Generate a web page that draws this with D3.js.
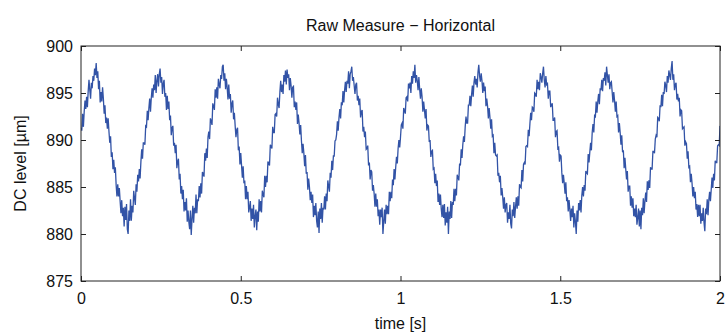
<!DOCTYPE html>
<html>
<head>
<meta charset="utf-8">
<script src="https://cdn.jsdelivr.net/npm/d3@7"></script>
<style>
  html, body { margin: 0; padding: 0; background: #fff; }
  svg { display: block; font-family: "Liberation Sans", Arial, sans-serif; }
</style>
</head>
<body>
<svg id="chart" width="727" height="334"></svg>
<script>
// sampling step of the trace [s]
const dt = 0.0025;

// DC level [um], one value per 2.5 ms (one row block per ~0.2 s cycle)
const dcLevel = [
  891.3, 891.0, 892.8, 891.4, 893.0, 894.2, 893.3, 894.6, 893.5, 895.2,
  896.4, 895.3, 894.4, 896.1, 895.5, 896.8, 896.3, 897.6, 896.9, 898.2,
  896.6, 897.3, 895.4, 896.3, 894.0, 895.1, 894.1, 895.6, 894.4, 892.8,
  893.7, 891.8, 892.4, 891.2, 892.3, 890.9, 889.7, 890.4, 888.2, 888.7,
  886.9, 887.9, 886.5, 887.1, 885.2, 884.0, 885.3, 884.0, 884.9, 883.5,
  882.2, 883.6, 881.9, 882.8, 880.8, 882.9, 881.5, 883.2, 880.5, 880.0,
  882.5, 881.4, 883.7, 881.4, 883.0, 882.3, 884.6, 883.8, 883.1, 885.3,
  884.5, 886.3, 885.6, 886.9, 885.9, 887.7, 889.0, 888.0, 889.7, 889.7,

  889.5, 891.5, 891.4, 893.1, 892.1, 893.4, 894.4, 893.0, 894.5, 895.5,
  894.5, 895.9, 895.3, 896.9, 895.0, 896.3, 897.0, 895.7, 897.0, 897.6,
  896.1, 896.7, 894.9, 896.0, 896.4, 894.6, 895.0, 893.2, 894.7, 893.3,
  894.1, 892.1, 892.6, 890.5, 891.3, 891.5, 889.4, 889.7, 888.6, 889.5,
  887.0, 887.7, 888.0, 885.8, 886.4, 884.3, 885.1, 883.7, 884.7, 882.4,
  883.4, 882.5, 883.8, 881.3, 882.5, 881.3, 880.5, 882.5, 879.9, 881.6,
  883.0, 881.2, 882.8, 882.2, 884.2, 882.2, 883.7, 883.5, 885.1, 883.9,
  885.4, 884.3, 886.6, 886.4, 886.1, 888.6, 887.8, 889.1, 888.1, 890.3,

  890.9, 890.1, 892.3, 892.0, 891.6, 893.9, 893.6, 893.2, 895.4, 894.5,
  895.6, 894.4, 896.5, 895.9, 895.5, 896.9, 896.5, 897.8, 898.0, 896.3,
  897.1, 895.4, 896.5, 895.6, 894.3, 895.9, 894.4, 894.9, 892.9, 893.9,
  894.2, 892.2, 892.9, 891.5, 890.3, 891.1, 891.3, 888.9, 889.3, 887.4,
  888.6, 887.3, 886.0, 887.2, 885.4, 885.7, 883.7, 885.1, 883.7, 884.5,
  882.3, 882.8, 883.5, 881.4, 882.7, 881.6, 883.1, 880.7, 881.9, 882.6,
  880.4, 882.4, 881.3, 883.7, 882.4, 883.5, 882.3, 884.6, 884.2, 883.9,
  886.2, 885.0, 886.2, 885.5, 887.7, 887.5, 887.3, 889.5, 889.3, 889.1,

  891.4, 890.8, 890.8, 892.7, 892.8, 892.5, 894.5, 893.8, 893.4, 895.1,
  896.3, 895.1, 895.9, 894.9, 896.9, 896.2, 897.4, 895.9, 897.5, 896.6,
  897.0, 895.3, 896.6, 895.8, 894.5, 895.6, 895.7, 893.5, 894.1, 893.2,
  894.0, 891.7, 892.7, 891.8, 890.6, 891.6, 889.9, 888.6, 889.6, 888.6,
  887.2, 888.4, 886.4, 886.6, 884.7, 885.9, 885.0, 883.6, 884.5, 883.3,
  884.2, 881.8, 883.0, 882.0, 883.3, 881.4, 880.7, 882.4, 880.1, 882.7,
  881.6, 883.3, 881.2, 882.8, 882.6, 884.0, 882.6, 884.3, 883.5, 885.7,
  885.1, 884.5, 886.5, 886.0, 887.8, 886.8, 888.3, 888.3, 889.9, 890.0,

  890.6, 892.0, 891.0, 892.4, 893.3, 892.3, 894.0, 893.7, 895.2, 894.0,
  895.3, 896.2, 895.1, 896.3, 896.0, 897.3, 895.5, 897.0, 897.3, 897.8,
  896.3, 896.7, 895.8, 894.9, 895.9, 896.1, 894.2, 894.7, 893.7, 894.4,
  892.4, 893.0, 893.2, 890.9, 891.4, 890.3, 890.9, 889.0, 889.1, 889.4,
  887.3, 887.6, 885.8, 886.8, 886.6, 884.6, 885.2, 884.3, 882.9, 884.3,
  882.9, 883.7, 881.9, 882.6, 881.0, 882.6, 881.8, 882.8, 880.0, 881.3,
  882.6, 881.1, 883.1, 882.1, 883.0, 882.1, 884.5, 883.5, 884.5, 883.8,
  885.8, 885.2, 886.9, 885.8, 887.1, 888.2, 887.5, 889.1, 890.0, 889.2,

  890.3, 891.6, 891.8, 891.2, 893.4, 893.1, 892.8, 894.5, 894.6, 894.1,
  896.0, 895.5, 896.1, 895.0, 896.8, 896.0, 897.3, 896.6, 898.0, 896.1,
  896.9, 896.3, 895.3, 896.7, 895.4, 894.4, 895.5, 894.6, 893.0, 894.1,
  893.2, 892.3, 893.3, 891.0, 891.6, 891.5, 889.8, 890.0, 888.2, 888.8,
  888.9, 886.9, 887.0, 885.4, 886.4, 885.1, 885.7, 883.4, 884.3, 883.1,
  884.2, 882.7, 881.8, 883.1, 881.7, 883.2, 880.9, 882.3, 881.2, 882.9,
  880.0, 882.4, 881.6, 883.5, 881.7, 883.4, 883.1, 884.8, 883.5, 884.8,
  884.1, 886.3, 886.0, 885.7, 887.5, 887.3, 889.0, 888.1, 889.5, 890.4,

  889.8, 891.4, 892.5, 891.8, 891.8, 893.7, 893.7, 894.7, 893.6, 894.8,
  895.8, 894.6, 896.1, 896.8, 895.9, 896.5, 895.6, 897.2, 898.0, 896.8,
  896.2, 897.1, 896.3, 895.0, 896.1, 895.2, 895.7, 893.6, 894.4, 893.6,
  892.3, 893.4, 892.4, 891.2, 892.2, 890.4, 890.5, 888.6, 889.7, 888.4,
  888.3, 888.4, 886.2, 886.5, 885.5, 886.2, 884.1, 884.9, 883.9, 882.7,
  883.9, 882.3, 883.1, 883.3, 881.2, 882.3, 881.6, 883.1, 881.1, 880.6,
  882.6, 881.9, 883.4, 881.7, 882.9, 883.9, 882.7, 884.0, 883.0, 885.3,
  885.0, 884.9, 886.8, 885.6, 887.4, 887.6, 887.4, 889.3, 889.4, 889.3,

  891.1, 890.4, 891.7, 892.9, 892.1, 893.5, 893.4, 893.0, 895.0, 894.9,
  894.6, 896.4, 895.4, 896.2, 895.3, 897.1, 896.7, 896.1, 897.1, 897.8,
  896.4, 895.6, 896.8, 895.9, 896.0, 894.4, 895.2, 895.2, 893.5, 893.7,
  893.9, 892.1, 892.1, 892.4, 890.3, 890.9, 891.0, 889.1, 889.2, 887.7,
  888.4, 888.3, 886.5, 885.4, 886.3, 885.4, 884.3, 885.5, 883.5, 883.9,
  882.4, 883.6, 882.6, 881.4, 882.7, 881.8, 883.0, 880.7, 882.2, 881.3,
  880.0, 882.5, 881.3, 883.3, 882.5, 883.6, 882.3, 884.1, 885.0, 884.0,
  885.2, 884.6, 886.7, 886.5, 886.4, 888.5, 887.6, 888.7, 889.7, 888.9,

  890.8, 891.7, 890.8, 892.6, 892.5, 894.1, 892.9, 894.1, 894.9, 893.8,
  895.5, 895.3, 896.4, 895.2, 896.6, 896.3, 897.2, 895.8, 897.8, 896.9,
  896.1, 897.0, 895.4, 896.1, 896.2, 895.1, 894.0, 895.1, 894.2, 893.0,
  894.1, 892.5, 892.6, 890.8, 891.8, 890.8, 889.5, 890.5, 888.7, 888.9,
  887.0, 888.1, 886.9, 885.8, 886.7, 884.5, 885.1, 885.1, 883.0, 884.0,
  882.8, 883.8, 881.9, 882.7, 881.8, 883.1, 881.0, 881.7, 882.7, 880.8,
  882.5, 880.5, 882.8, 882.0, 883.8, 882.2, 883.5, 884.4, 883.4, 885.6,
  884.7, 885.7, 884.9, 887.1, 886.9, 886.9, 888.8, 888.8, 888.6, 890.1,

  890.5, 890.3, 892.4, 892.3, 892.0, 893.7, 893.5, 894.8, 893.6, 895.1,
  894.9, 896.2, 895.8, 895.1, 896.8, 896.1, 897.4, 896.9, 896.4, 897.6,
  898.4, 896.4, 897.0, 895.3, 895.9, 896.1, 894.3, 894.9, 894.1, 894.5,
  892.5, 893.2, 893.1, 891.2, 891.3, 891.4, 889.4, 889.8, 889.6, 888.0,
  888.8, 887.1, 887.2, 885.5, 886.4, 885.4, 884.0, 885.0, 883.8, 884.5,
  882.6, 883.2, 881.8, 883.1, 881.9, 883.1, 881.1, 882.2, 881.4, 882.8,
  881.2, 880.3, 882.7, 882.1, 883.7, 882.0, 883.6, 884.5, 883.5, 884.7,
  886.0, 884.9, 886.4, 885.7, 887.8, 887.6, 887.6, 889.4, 889.5, 889.4,

  891.5
];

const xTicks = [0, 0.5, 1, 1.5, 2];
const yTicks = [875, 880, 885, 890, 895, 900];

const title = "Raw Measure \u2212 Horizontal";
const xLabel = "time [s]";
const yLabel = "DC level [\u00b5m]";

const width = 727;
const height = 334;
const margin = { top: 46, right: 7, bottom: 53, left: 81 };
const innerW = width - margin.left - margin.right;
const innerH = height - margin.top - margin.bottom;

const svg = d3.select("#chart");
const g = svg.append("g").attr("transform", `translate(${margin.left},${margin.top})`);

const x = d3.scaleLinear().domain([0, 2]).range([0, innerW]);
const y = d3.scaleLinear().domain([875, 900]).range([innerH, 0]);

const series = dcLevel.map((v, i) => ({ t: i * dt, v }));

g.append("defs").append("clipPath").attr("id", "plotClip")
  .append("rect").attr("width", innerW).attr("height", innerH);

const line = d3.line().x(d => x(d.t)).y(d => y(d.v));
g.append("path").datum(series)
  .attr("clip-path", "url(#plotClip)")
  .attr("d", line)
  .attr("fill", "none")
  .attr("stroke", "#3253a6")
  .attr("stroke-width", 1.3)
  .attr("stroke-linejoin", "miter");

const axisColor = "#222";
const tickFont = 16;

function styleAxis(sel, showLabels) {
  sel.select(".domain").remove();
  sel.selectAll(".tick line").attr("stroke", axisColor);
  if (showLabels) {
    sel.selectAll(".tick text").attr("fill", "#111").attr("font-size", tickFont).attr("font-family", "Liberation Sans, Arial, sans-serif");
  } else {
    sel.selectAll(".tick text").remove();
  }
}

const fmtX = d => d3.format("~g")(d);

g.append("g").attr("transform", `translate(0,${innerH})`)
  .call(d3.axisBottom(x).tickValues(xTicks).tickFormat(fmtX).tickSizeInner(-5).tickSizeOuter(0).tickPadding(12))
  .call(s => styleAxis(s, true));
g.append("g")
  .call(d3.axisTop(x).tickValues(xTicks).tickSizeInner(-5).tickSizeOuter(0))
  .call(s => styleAxis(s, false));
g.append("g")
  .call(d3.axisLeft(y).tickValues(yTicks).tickFormat(d3.format("d")).tickSizeInner(-5).tickSizeOuter(0).tickPadding(8))
  .call(s => styleAxis(s, true));
g.append("g").attr("transform", `translate(${innerW},0)`)
  .call(d3.axisRight(y).tickValues(yTicks).tickSizeInner(-5).tickSizeOuter(0))
  .call(s => styleAxis(s, false));

g.append("rect")
  .attr("x", 0).attr("y", 0).attr("width", innerW).attr("height", innerH)
  .attr("fill", "none").attr("stroke", axisColor).attr("stroke-width", 1);

svg.append("text")
  .attr("x", margin.left + innerW / 2).attr("y", 31)
  .attr("text-anchor", "middle").attr("font-size", 16).attr("fill", "#111")
  .text(title);

svg.append("text")
  .attr("x", margin.left + innerW / 2).attr("y", 329)
  .attr("text-anchor", "middle").attr("font-size", 16).attr("fill", "#111")
  .text(xLabel);

svg.append("text")
  .attr("transform", `translate(26,${margin.top + innerH / 2}) rotate(-90)`)
  .attr("text-anchor", "middle").attr("font-size", 16).attr("fill", "#111")
  .text(yLabel);
</script>
</body>
</html>
